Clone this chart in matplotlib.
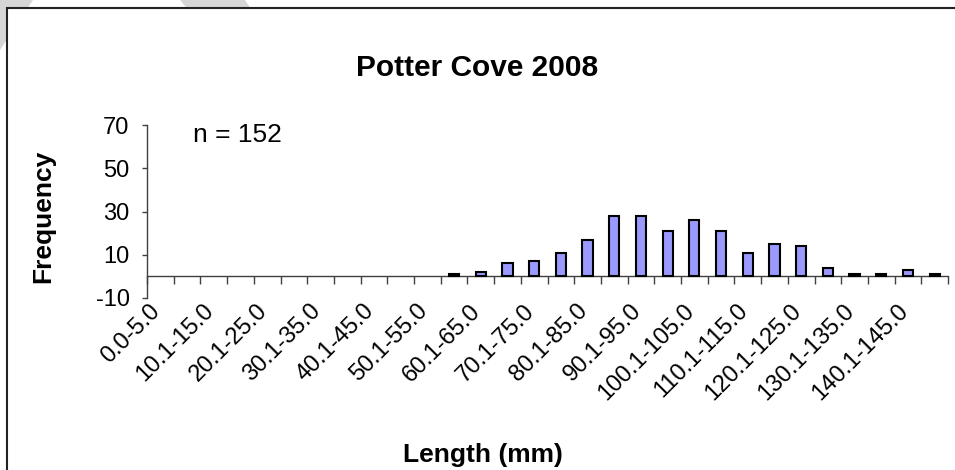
import matplotlib.pyplot as plt
from matplotlib.patches import Rectangle, Polygon
from matplotlib.transforms import ScaledTranslation

plt.rcParams['font.family'] = ['Liberation Sans', 'DejaVu Sans']
plt.rcParams['axes.unicode_minus'] = False

# length classes (mm) and counts
categories = ['0.0-5.0', '5.1-10.0', '10.1-15.0', '15.1-20.0', '20.1-25.0',
              '25.1-30.0', '30.1-35.0', '35.1-40.0', '40.1-45.0', '45.1-50.0',
              '50.1-55.0', '55.1-60.0', '60.1-65.0', '65.1-70.0', '70.1-75.0',
              '75.1-80.0', '80.1-85.0', '85.1-90.0', '90.1-95.0', '95.1-100.0',
              '100.1-105.0', '105.1-110.0', '110.1-115.0', '115.1-120.0', '120.1-125.0',
              '125.1-130.0', '130.1-135.0', '135.1-140.0', '140.1-145.0', '145.1-150.0']
frequency = [0, 0, 0, 0, 0, 0, 0, 0, 0, 0,
             0, 1, 2, 6, 7, 11, 17, 28, 28, 21,
             26, 21, 11, 15, 14, 4, 1, 1, 3, 1]
y_ticks = [-10, 10, 30, 50, 70]
n_label = 'n = 152'

fig = plt.figure(figsize=(9.55, 4.7), dpi=100)

# grey background bits behind the chart box (from the source document)
fig.patches.append(Polygon([[0, 1], [33/955, 1], [0, 1 - 50/470]], closed=True,
                           transform=fig.transFigure, facecolor='#d6d6d6',
                           edgecolor='none', zorder=-3))
fig.patches.append(Polygon([[180/955, 1], [245/955, 1], [265/955, 1 - 30/470], [205/955, 1 - 30/470]],
                           closed=True, transform=fig.transFigure, facecolor='#d6d6d6',
                           edgecolor='none', zorder=-3))
# chart frame
fig.patches.append(Rectangle((7/955, -0.1), 1.2, 1.1 - 8/470, transform=fig.transFigure,
                             facecolor='white', edgecolor='#222222', linewidth=1.5, zorder=-2))

ax = fig.add_axes([147/955, 1 - 298/470, 801/955, 173/470])
ax.set_facecolor('none')

x = range(len(categories))
edge_w = [1.5 if v > 0 else 0 for v in frequency]
ax.bar(x, frequency, width=0.38, color='#9999FF', edgecolor='black', linewidth=edge_w, zorder=3)

ax.set_xlim(-0.5, len(categories) - 0.5)
ax.set_ylim(-10, 70)
ax.set_yticks(y_ticks)

ax.spines['top'].set_visible(False)
ax.spines['right'].set_visible(False)
ax.spines['bottom'].set_position(('data', 0))
for s in ['left', 'bottom']:
    ax.spines[s].set_color('#404040')
    ax.spines[s].set_linewidth(1)

# boundary ticks, labels on every second class
ax.set_xticks([i - 0.5 for i in range(len(categories) + 1)])
ax.set_xticks(list(x)[::2], minor=True)
ax.set_xticklabels(categories[::2], minor=True)
ax.tick_params(axis='x', which='major', length=5.8, width=1, color='#404040', labelbottom=False)
ax.tick_params(axis='x', which='minor', length=0, pad=17, labelsize=17)
shift = ScaledTranslation(-0.11, 0, fig.dpi_scale_trans)
for lbl in ax.get_xticklabels(minor=True):
    lbl.set_rotation(45)
    lbl.set_ha('right')
    lbl.set_va('top')
    lbl.set_rotation_mode('anchor')
    lbl.set_transform(lbl.get_transform() + shift)
ax.tick_params(axis='y', length=3.6, width=1, color='#404040', pad=9, labelsize=17)

ax.set_ylabel('Frequency', fontsize=19, fontweight='bold')
ax.yaxis.set_label_coords(-0.115, 0.47)
ax.set_xlabel('Length (mm)', fontsize=19, fontweight='bold')
ax.xaxis.label.set_va('center')
ax.xaxis.set_label_coords(0.42, -0.907)

ax.text(1.72 - 0.5, 65.5, n_label, fontsize=19, ha='left', va='center')

fig.text(0.5, 1 - 68/470, 'Potter Cove 2008', fontsize=21.5, fontweight='bold',
         ha='center', va='center')

fig.savefig('out.png', dpi=100)
